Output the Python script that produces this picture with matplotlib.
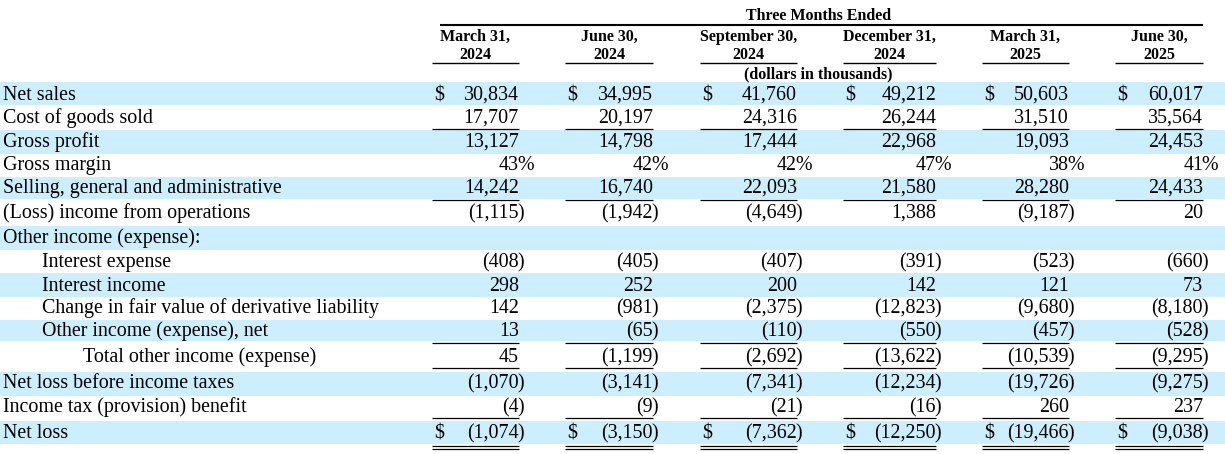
import matplotlib
matplotlib.use("Agg")
import matplotlib.pyplot as plt

# ---------------- data ----------------
col_month = ["March 31,", "June 30,", "September 30,", "December 31,", "March 31,", "June 30,"]
col_year = ["2024", "2024", "2024", "2024", "2025", "2025"]

labels = [
    "Net sales",
    "Cost of goods sold",
    "Gross profit",
    "Gross margin",
    "Selling, general and administrative",
    "(Loss) income from operations",
    "Other income (expense):",
    "Interest expense",
    "Interest income",
    "Change in fair value of derivative liability",
    "Other income (expense), net",
    "Total other income (expense)",
    "Net loss before income taxes",
    "Income tax (provision) benefit",
    "Net loss",
]
indent = [0, 0, 0, 0, 0, 0, 0, 1, 1, 1, 1, 2, 0, 0, 0]

net_sales = [30834, 34995, 41760, 49212, 50603, 60017]
cogs = [17707, 20197, 24316, 26244, 31510, 35564]
gross_profit = [13127, 14798, 17444, 22968, 19093, 24453]
gross_margin = [43, 42, 42, 47, 38, 41]
sga = [14242, 16740, 22093, 21580, 28280, 24433]
op_income = [-1115, -1942, -4649, 1388, -9187, 20]
interest_expense = [-408, -405, -407, -391, -523, -660]
interest_income = [298, 252, 200, 142, 121, 73]
fv_change = [142, -981, -2375, -12823, -9680, -8180]
other_net = [13, -65, -110, -550, -457, -528]
total_other = [45, -1199, -2692, -13622, -10539, -9295]
pretax = [-1070, -3141, -7341, -12234, -19726, -9275]
tax = [-4, -9, -21, -16, 260, 237]
net_loss = [-1074, -3150, -7362, -12250, -19466, -9038]

row_values = [net_sales, cogs, gross_profit, gross_margin, sga, op_income, None,
              interest_expense, interest_income, fv_change, other_net, total_other,
              pretax, tax, net_loss]
row_kind = ["dollar", "num", "num", "pct", "num", "num", "none",
            "num", "num", "num", "num", "num", "num", "num", "dollar"]

# ---------------- layout ----------------
W, H = 1225, 454
BLUE = "#CCEEFF"
FONT = "Liberation Serif"
body_fs = 14.4
head_fs = 11.5

col_left = [432, 565, 700, 843, 982, 1115]
col_right = [519, 653, 797, 936, 1069, 1203]
baselines = [100, 123, 147, 170, 193, 218, 243, 267, 291, 313, 336, 362, 388, 412, 438]
bands = [(82, 104.5), (129.5, 153.5), (177, 198.5), (226, 250), (273, 296.5),
         (319.5, 341), (372, 395.5), (420.5, 444)]
single_lines = {1: 128.5, 4: 199.5, 10: 342.5, 11: 367.5, 13: 418}
double_line = (14, 445.5, 448.8)
indent_x = [3, 42, 83]
tail_shift = -2.0

fig = plt.figure(figsize=(W / 100, H / 100), dpi=100)
ax = fig.add_axes([0, 0, 1, 1])
ax.set_xlim(0, W)
ax.set_ylim(H, 0)
ax.axis("off")

for y0, y1 in bands:
    ax.axhspan(y0, y1, xmin=0, xmax=1, color=BLUE, lw=0, zorder=0)

# header
mid = (col_left[0] + col_right[-1]) / 2 + 1
ax.text(mid, 20, "Three Months Ended", fontfamily=FONT, fontweight="bold",
        fontsize=head_fs, ha="center", va="baseline")
ax.plot([440, col_right[-1]], [25, 25], color="black", lw=1.5, solid_capstyle="butt")
for j in range(6):
    cx = (col_left[j] + col_right[j]) / 2
    ax.text(cx, 41, col_month[j], fontfamily=FONT, fontweight="bold",
            fontsize=head_fs, ha="center", va="baseline")
    ax.text(cx, 59, col_year[j], fontfamily=FONT, fontweight="bold",
            fontsize=head_fs, ha="center", va="baseline")
    ax.plot([col_left[j], col_right[j]], [63, 63], color="black", lw=1.0,
            solid_capstyle="butt")
ax.text(mid, 78, "(dollars in thousands)", fontfamily=FONT, fontweight="bold",
        fontsize=head_fs, ha="center", va="baseline")


def fmt(v):
    s = f"{abs(v):,}"
    return ("(" + s, ")") if v < 0 else (s, "")


for i, lab in enumerate(labels):
    yb = baselines[i]
    ax.text(indent_x[indent[i]], yb, lab, fontfamily=FONT, fontsize=body_fs,
            ha="left", va="baseline")
    vals = row_values[i]
    kind = row_kind[i]
    if vals is None:
        continue
    for j, v in enumerate(vals):
        if kind == "pct":
            main, tail = f"{v}", "%"
        else:
            main, tail = fmt(v)
        ax.text(col_right[j], yb, main, fontfamily=FONT, fontsize=body_fs,
                ha="right", va="baseline")
        if tail:
            ax.text(col_right[j] + tail_shift, yb, tail, fontfamily=FONT,
                    fontsize=body_fs, ha="left", va="baseline")
        if kind == "dollar":
            ax.text(col_left[j] + 2, yb, "$", fontfamily=FONT, fontsize=body_fs,
                    ha="left", va="baseline")

for i, y in single_lines.items():
    for j in range(6):
        ax.plot([col_left[j], col_right[j]], [y, y], color="black", lw=0.9,
                solid_capstyle="butt")
for y in double_line[1:]:
    for j in range(6):
        ax.plot([col_left[j], col_right[j]], [y, y], color="black", lw=0.9,
                solid_capstyle="butt")

fig.savefig("out.png", dpi=100)
